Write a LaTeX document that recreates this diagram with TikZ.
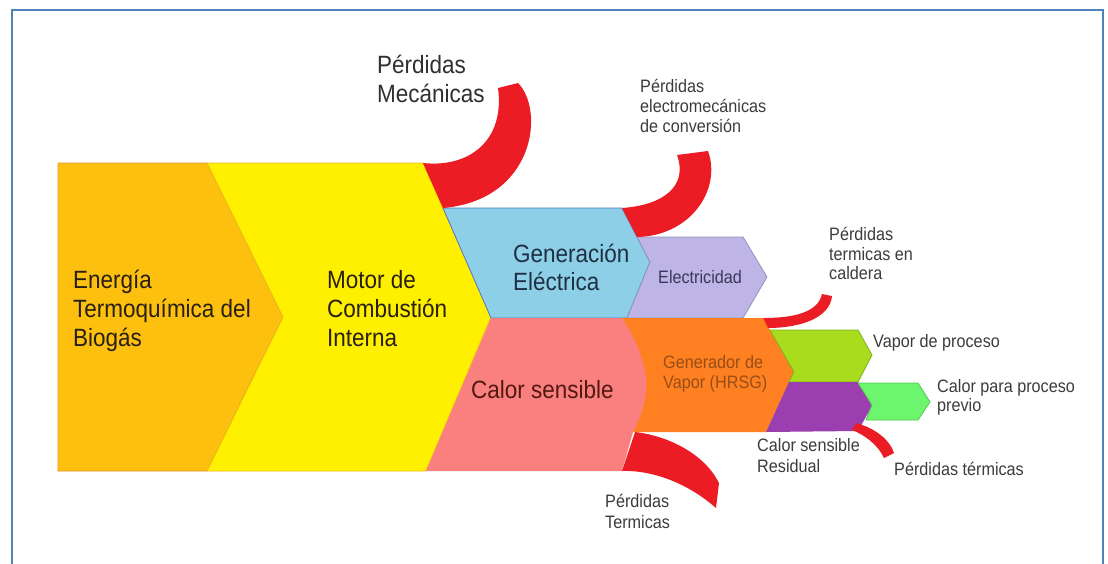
\documentclass[tikz,border=0pt]{standalone}
\usepackage{fontspec}
\setmainfont{Liberation Sans}[FakeStretch=0.9]
\definecolor{cframe}{RGB}{79,129,189}
\definecolor{corange}{RGB}{254,192,14}
\definecolor{corangeln}{RGB}{226,150,40}
\definecolor{cyellow}{RGB}{255,240,0}
\definecolor{cblue}{RGB}{142,207,232}
\definecolor{cblueln}{RGB}{80,120,190}
\definecolor{clav}{RGB}{190,181,230}
\definecolor{clavln}{RGB}{140,150,190}
\definecolor{cpink}{RGB}{250,128,128}
\definecolor{chrsg}{RGB}{255,128,32}
\definecolor{cgreen}{RGB}{170,220,30}
\definecolor{cgreenln}{RGB}{120,180,30}
\definecolor{cpurple}{RGB}{155,62,175}
\definecolor{clgreen}{RGB}{110,245,110}
\definecolor{clgreenln}{RGB}{80,200,80}
\definecolor{cred}{RGB}{236,28,36}
\definecolor{tdark}{RGB}{40,32,20}
\definecolor{tnavy}{RGB}{30,48,66}
\definecolor{tgray}{RGB}{60,60,60}
\definecolor{tlav}{RGB}{60,55,90}
\definecolor{tbrown}{RGB}{150,78,25}
\begin{document}
\begin{tikzpicture}[x=1pt,y=-1pt,
  bigtxt/.style={anchor=base west,inner sep=0pt,font=\fontsize{25}{30}\selectfont,text=tdark},
  smalltxt/.style={anchor=base west,inner sep=0pt,font=\fontsize{18}{20}\selectfont,text=tgray},
  lossband/.style={fill=cred,draw=none},
  block/.style={line width=0.8pt,line join=miter}]
\path[use as bounding box,fill=white] (0,0) rectangle (1108,563);
% frame
\coordinate (fbl) at (12,575);
\coordinate (ftl) at (12,10);
\coordinate (ftr) at (1103,10);
\coordinate (fbr) at (1103,575);
\draw[cframe,line width=1.6pt] (fbl) -- (ftl) -- (ftr) -- (fbr);
% main blocks
\path[block,fill=corange,draw=corangeln] (58,163) -- (207,163) -- (283,317) -- (207,471) -- (58,471) -- cycle;
\path[block,fill=cyellow,draw=corangeln!60!cyellow] (207,163) -- (423,163) -- (491,317) -- (426,471) -- (207,471) -- (283,317) -- cycle;
\path[block,fill=cblue,draw=cblueln] (443,208) -- (622,208) -- (650,262) -- (627,318) -- (491,318) -- cycle;
\path[block,fill=clav,draw=clavln] (637,237) -- (743,237) -- (767,277) -- (743,318) -- (627,318) -- (650,262) -- cycle;
\path[fill=chrsg] (618,318) -- (763,318) -- (794,372) -- (766,432) -- (630,432) -- (640,390) -- cycle;
\path[fill=cpink] (491,318) -- (622,318) .. controls (640,345) and (648,372) .. (646,392) .. controls (644,410) and (638,422) .. (633,432) -- (622,471) -- (426,471) -- cycle;
\path[block,fill=cgreen,draw=cgreenln] (770,330) -- (858,330) -- (872,355) -- (858,382) -- (789,382) -- (794,372) -- cycle;
\path[fill=cpurple] (789,382) -- (858,382) -- (872,406) -- (858,431) -- (766,432) -- cycle;
\path[block,fill=clgreen,draw=clgreenln] (858,383) -- (918,383) -- (930,402) -- (918,420) -- (866,420) -- (872,405) -- cycle;
% loss bands
\path[lossband] (423,163) .. controls (470,168) and (505,140) .. (498,88) -- (518,83) .. controls (545,110) and (535,200) .. (443,208) -- cycle;
\path[lossband] (622,208) .. controls (665,205) and (688,185) .. (677,155) -- (708,151) .. controls (722,190) and (690,236) .. (637,237) -- cycle;
\path[lossband] (763,318) .. controls (795,318) and (818,312) .. (822,294) -- (832,296) .. controls (830,318) and (800,328) .. (768,328) -- cycle;
\path[lossband] (856,423) .. controls (875,428) and (890,440) .. (894,453) -- (884,458) .. controls (878,445) and (865,435) .. (852,430) -- cycle;
\path[lossband] (635,432) .. controls (670,436) and (705,455) .. (719,483) -- (716,508) .. controls (690,485) and (655,470) .. (622,471) -- cycle;
% texts
\node[bigtxt] (en1) at (73,288) {Energía};
\node[bigtxt] (en2) at (73,317) {Termoquímica del};
\node[bigtxt] (en3) at (73,346) {Biogás};
\node[bigtxt] (mo1) at (327,288) {Motor de};
\node[bigtxt] (mo2) at (327,317) {Combustión};
\node[bigtxt] (mo3) at (327,346) {Interna};
\node[bigtxt,text=tnavy] (ge1) at (513,262) {Generación};
\node[bigtxt,text=tnavy] (ge2) at (513,290) {Eléctrica};
\node[bigtxt,text=tdark!80!red] (cs) at (471,398) {Calor sensible};
\node[bigtxt,text=tgray!80!black] (pm1) at (377,73) {Pérdidas};
\node[bigtxt,text=tgray!80!black] (pm2) at (377,102) {Mecánicas};
\node[smalltxt,text=tlav] (el) at (658,283) {Electricidad};
\node[smalltxt,text=tbrown] (hr1) at (663,368) {Generador de};
\node[smalltxt,text=tbrown] (hr2) at (663,388) {Vapor (HRSG)};
\node[smalltxt] (vp) at (873,347) {Vapor de proceso};
\node[smalltxt] (cp1) at (937,392) {Calor para proceso};
\node[smalltxt] (cp2) at (937,411) {previo};
\node[smalltxt] (cr1) at (757,451) {Calor sensible};
\node[smalltxt] (cr2) at (757,472) {Residual};
\node[smalltxt] (pt) at (894,475) {Pérdidas térmicas};
\node[smalltxt] (pc1) at (829,240) {Pérdidas};
\node[smalltxt] (pc2) at (829,260) {termicas en};
\node[smalltxt] (pc3) at (829,279) {caldera};
\node[smalltxt] (pe1) at (640,92) {Pérdidas};
\node[smalltxt] (pe2) at (640,112) {electromecánicas};
\node[smalltxt] (pe3) at (640,132) {de conversión};
\node[smalltxt] (pg1) at (605,507) {Pérdidas};
\node[smalltxt] (pg2) at (605,528) {Termicas};
\end{tikzpicture}
\end{document}
